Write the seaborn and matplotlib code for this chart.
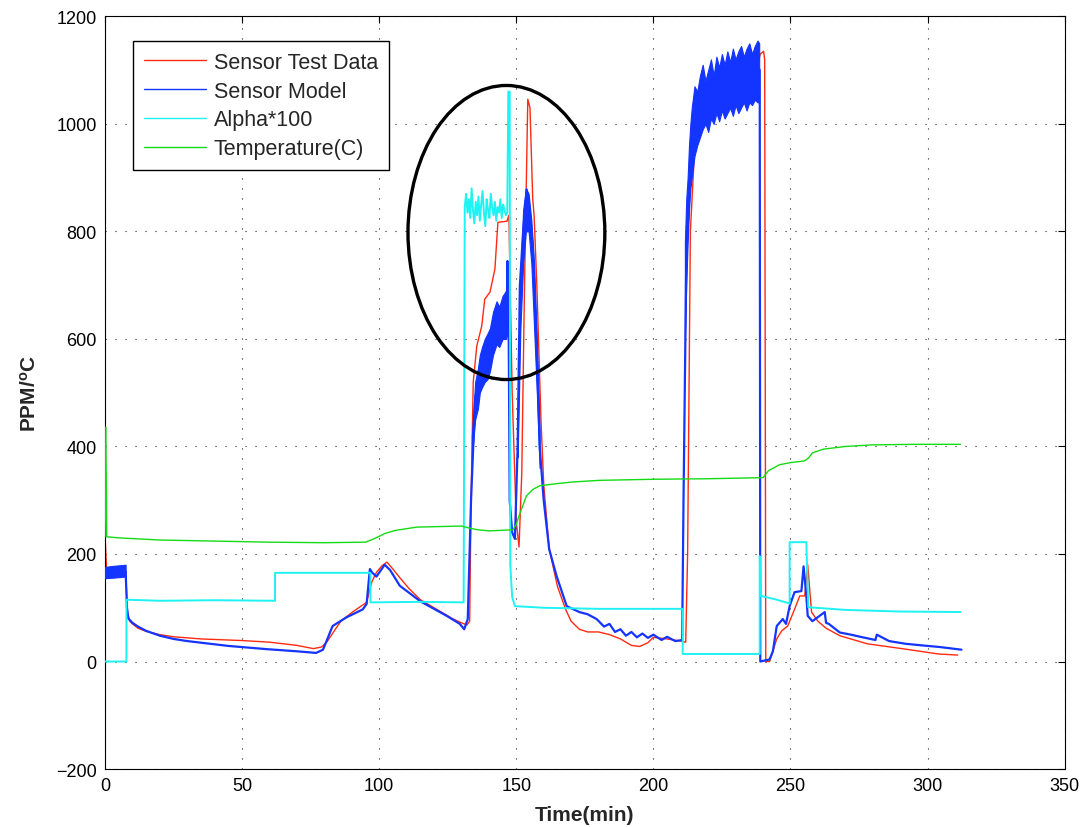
import numpy as np
import pandas as pd
import matplotlib
matplotlib.use('Agg')
import matplotlib.pyplot as plt
import seaborn as sns
from matplotlib.patches import Ellipse

sns.set_style('white')
plt.rcParams['font.family'] = ['Liberation Sans', 'DejaVu Sans']
plt.rcParams['mathtext.fontset'] = 'custom'
plt.rcParams['mathtext.bf'] = 'Liberation Sans:bold'
plt.rcParams['mathtext.rm'] = 'Liberation Sans'

# ---- data ----
red_t = [0, 0.6, 7.5, 8.2, 9, 10, 12, 15, 20, 25, 35, 50, 60, 70, 76, 79, 81, 84, 86, 90.5,
         95.4, 97.3, 99, 101, 102.8, 105, 107.5, 111, 115, 120, 127, 130, 132, 133, 133.5,
         134.3, 135.6, 137.4, 138.5, 140.4, 142.2, 143.3, 146.6, 147.3, 148.5, 150, 151, 152,
         153, 154.2, 155, 156, 156.5, 157.5, 159, 160, 162, 165, 168, 170, 173, 176, 180, 184,
         188, 192, 195, 198, 200, 205, 210, 211.8, 212.5, 213.5, 215, 218, 222, 228, 234, 238,
         239, 240.2, 240.6, 241, 242.4, 245, 246.8, 249, 251.5, 253.4, 255.2, 256.3, 257.7,
         260, 263, 268, 278, 292, 304, 311]
red_v = [235, 165, 168, 90, 75, 70, 62, 56, 50, 46, 42, 39, 36, 30, 24, 27, 37, 60, 75, 93,
         110, 148, 166, 178, 185, 172, 156, 135, 115, 100, 79, 72, 68, 75, 300,
         520, 587, 624, 674, 687, 730, 817, 819, 830, 500, 260, 213, 350,
         700, 1046, 1030, 860, 830, 700, 450, 330, 210, 140, 97, 75, 60, 55, 55, 50,
         42, 30, 28, 35, 45, 42, 38, 36, 200, 800, 950, 1040, 1070, 1090, 1100, 1110,
         1130, 1135, 1120, 0, 0, 42, 57, 66, 97, 122, 122, 180, 92,
         75, 62, 48, 33, 23, 14, 12]

blue_t = [0, 7.5, 8, 8.5, 10, 12, 15, 20, 25, 30, 35, 45, 59, 70, 77, 79.5, 83, 88, 94, 95.4,
          96.6, 97.5, 99, 102, 104, 107.5, 115, 124.6, 129.4, 131, 132.3, 133.5, 135, 136.7,
          138.5, 140.4, 142.8, 145, 146.5, 146.8, 147.2, 147.6, 148.5, 149.5, 150.5, 151.3,
          152.5, 153.8, 155, 156, 157.4, 158.6, 160, 162, 164.7, 168.4, 173, 176, 179.3, 182,
          184, 186, 188, 190, 192, 194, 196, 198, 200, 203, 205, 208, 210.5, 211, 212, 213.3,
          214.4, 218, 222, 232.6, 238, 238.8, 239,
          242.4, 243.6, 245, 247.2, 248.4, 249.7, 251.5, 254, 254.8, 255.8, 256.3, 258, 262.5,
          263, 264, 268, 272, 276.4, 281, 281.5, 286, 292, 298, 304.4, 312.4]
blue_v = [165, 168, 100, 80, 72, 65, 57, 48, 42, 38, 35, 29, 23, 19, 16, 22, 66, 82, 97, 107,
          172, 165, 158, 180, 170, 141, 112, 85, 70, 60, 79, 300, 488, 538,
          555, 575, 636, 630, 650, 745, 640, 300, 240, 228, 400, 698,
          800, 878, 830, 772, 587, 395, 300, 209, 159, 103, 92, 88, 79, 65,
          70, 55, 60, 48, 55, 45, 52, 44, 50, 40, 46, 38, 40, 300, 742, 897,
          990, 1064, 1075, 1095, 1107, 1100, 0,
          4, 19, 66, 79, 70, 103, 129, 131, 177, 122, 85, 75, 92,
          72, 70, 54, 50, 45, 40, 50, 38, 33, 30, 27, 22]

# noisy parts of the model trace (lower / upper envelope)
zero_t = [0, 3, 7.5]
zero_lo = [155, 156, 158]
zero_hi = [176, 178, 180]
ramp_t = [133.8, 135, 136, 136.7, 137.5, 138.5, 139.5, 140.4, 141.5, 142.8, 143.8, 145, 146.3,
          147.2]
ramp_lo = [380, 450, 470, 500, 510, 520, 525, 540, 570, 590, 585, 600, 600, 620]
ramp_hi = [420, 520, 545, 570, 585, 600, 610, 620, 650, 670, 660, 680, 690, 700]
peak_t = [150.5, 151.5, 152.5, 153.5, 154.5, 155.5, 156.5, 157.5, 158.5]
peak_lo = [380, 620, 740, 800, 800, 740, 620, 500, 360]
peak_hi = [460, 720, 840, 880, 870, 820, 740, 600, 430]
high_t = [211.5, 212, 212.5, 213, 213.5, 214, 214.5, 215, 216, 217, 218, 219, 220, 221, 222,
          223, 224, 225, 226, 227, 228, 229, 230, 231, 232, 233, 234, 235, 236, 237, 238,
          238.6]
high_lo = [600, 700, 780, 840, 880, 900, 920, 940, 960, 975, 990, 1000, 985, 1010, 1000,
           1020, 1005, 1025, 1010, 1020, 1030, 1015, 1035, 1020, 1030, 1040, 1025, 1040, 1035,
           1045, 1040, 1040]
high_hi = [780, 860, 900, 960, 1000, 1030, 1050, 1070, 1060, 1090, 1110, 1080, 1100, 1120,
           1090, 1125, 1105, 1130, 1110, 1135, 1115, 1140, 1120, 1135, 1145, 1125, 1140, 1150,
           1130, 1145, 1155, 1150]

alpha_plateau = [845, 870, 835, 860, 825, 880, 840, 815, 855, 830, 865, 820, 850, 875, 835,
                 810, 860, 840, 825, 870, 845, 830, 855, 820, 845, 835, 860, 825, 850, 840,
                 830, 835]
alpha_t = ([0, 7.8, 7.8, 20, 40, 62, 62, 80, 96.8, 96.8, 115, 130.8]
           + [131.2 + 0.5 * i for i in range(len(alpha_plateau))]
           + [147.1, 147.6, 147.8, 148.5, 149.5, 160, 180, 210.7, 210.7, 238.8, 238.8, 239.3,
              245, 249.7, 249.7, 255.8, 256.5, 270, 290, 312])
alpha_v = ([0, 0, 115, 113, 114, 113, 165, 165, 165, 110, 111, 110]
           + alpha_plateau
           + [1060, 1060, 180, 120, 103, 100, 98, 98, 14, 14, 196, 122,
              115, 108, 222, 222, 101, 96, 93, 92])

temp_t = [0, 0.3, 0.6, 5, 20, 40, 60, 80, 95, 98, 102, 106, 113.7, 130, 133, 136, 140, 148.8,
          150, 151, 153.7, 156, 158.6, 165, 170.6, 180.5, 200, 220, 240, 242, 246, 250, 255,
          256.5, 258, 262, 270, 280, 295, 312]
temp_v = [232, 436, 232, 230, 226, 224, 222, 221, 222, 228, 238, 244, 250, 252, 248, 245, 243,
          245, 255, 271, 308, 320, 327, 331, 334, 337, 339, 340, 342, 355, 366, 370, 373,
          378, 388, 395, 400, 403, 404, 404]

x_ticks = [0, 50, 100, 150, 200, 250, 300, 350]
y_ticks = [-200, 0, 200, 400, 600, 800, 1000, 1200]

c_red = '#ff2a10'
c_blue = '#1434ff'
c_cyan = '#1ef2f2'
c_green = '#14dc14'

fig = plt.figure(figsize=(10.83, 8.28), dpi=100)
ax = fig.add_axes([0.097, 0.070, 0.886, 0.909])

sns.lineplot(x=red_t, y=red_v, sort=False, estimator=None, color=c_red, lw=1.0,
             label='Sensor Test Data', ax=ax, zorder=2)
sns.lineplot(x=blue_t, y=blue_v, sort=False, estimator=None, color=c_blue, lw=1.6,
             label='Sensor Model', ax=ax, zorder=3)
for bt, lo, hi in [(zero_t, zero_lo, zero_hi), (ramp_t, ramp_lo, ramp_hi),
                   (peak_t, peak_lo, peak_hi), (high_t, high_lo, high_hi)]:
    ax.fill_between(bt, lo, hi, color=c_blue, lw=0.8, ec=c_blue, zorder=3)
sns.lineplot(x=alpha_t, y=alpha_v, sort=False, estimator=None, color=c_cyan, lw=1.4,
             label='Alpha*100', ax=ax, zorder=4)
sns.lineplot(x=temp_t, y=temp_v, sort=False, estimator=None, color=c_green, lw=1.0,
             label='Temperature(C)', ax=ax, zorder=5)

# circled region
ax.add_patch(Ellipse((146.4, 798), 71.8, 547, fill=False, ec='black', lw=2.4, zorder=6))

ax.set_xlim(0, 350)
ax.set_ylim(-200, 1200)
ax.set_xticks(x_ticks)
ax.set_yticks(y_ticks)
ax.grid(True, color='#222222', linestyle=(0, (1, 8)), linewidth=0.8)
ax.tick_params(direction='in', top=True, right=True, length=5, width=0.8,
               labelsize=13, pad=6, colors='black')
for s in ax.spines.values():
    s.set_color('black')
    s.set_linewidth(0.8)

ax.set_xlabel('Time(min)', fontsize=15, fontweight='bold', labelpad=8)
ax.set_ylabel(r'$\mathbf{PPM/^{o}C}$', fontsize=15, labelpad=12)

leg = ax.legend(loc='upper left', bbox_to_anchor=(0.029, 0.967), borderaxespad=0,
                fontsize=15.5, handlelength=2.9, handletextpad=0.35, labelspacing=0.36,
                borderpad=0.5, fancybox=False, framealpha=1, edgecolor='black')
leg.get_frame().set_linewidth(1.0)
for h in leg.get_lines():
    h.set_linewidth(1.0)

fig.savefig('out.png', dpi=100)
